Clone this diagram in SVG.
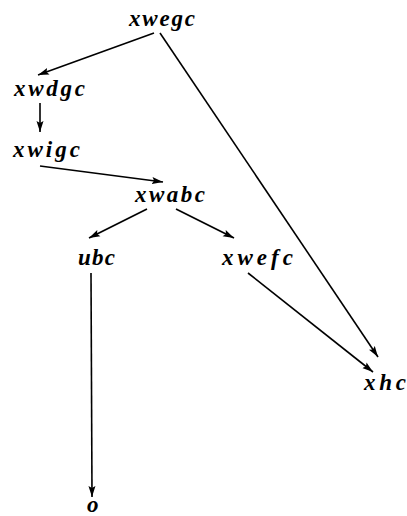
<svg xmlns="http://www.w3.org/2000/svg" width="407" height="516" viewBox="0 0 407 516">
<style>
.lbl{font-family:"Liberation Serif","DejaVu Serif",serif;font-weight:bold;font-style:italic;font-size:23px;fill:#000}
.edge{stroke:#000;stroke-width:1.6;fill:none;marker-end:url(#ah)}
</style>
<defs>
<marker id="ah" markerUnits="userSpaceOnUse" markerWidth="12" markerHeight="8" refX="11" refY="4" orient="auto">
<path d="M0,0.5 L11,4 L0,7.5 L2,4 z" fill="#000"/>
</marker>
</defs>
<rect width="407" height="516" fill="#fff"/>
<g id="connectors">
<line class="edge" x1="154" y1="33" x2="38" y2="75"/>
<line class="edge" x1="160" y1="33" x2="378" y2="357"/>
<line class="edge" x1="40" y1="103" x2="40" y2="132"/>
<line class="edge" x1="40" y1="166" x2="163" y2="182"/>
<line class="edge" x1="147" y1="209" x2="89" y2="238"/>
<line class="edge" x1="176" y1="209" x2="234" y2="238"/>
<line class="edge" x1="91" y1="273" x2="92" y2="497"/>
<line class="edge" x1="248" y1="273" x2="373" y2="372"/>
</g>
<g id="n-xwegc"><text class="lbl" x="129" y="26" textLength="66" lengthAdjust="spacing">xwegc</text></g>
<g id="n-xwdgc"><text class="lbl" x="14" y="96" textLength="71" lengthAdjust="spacing">xwdgc</text></g>
<g id="n-xwigc"><text class="lbl" x="13" y="157" textLength="67" lengthAdjust="spacing">xwigc</text></g>
<g id="n-xwabc"><text class="lbl" x="135" y="202" textLength="70" lengthAdjust="spacing">xwabc</text></g>
<g id="n-ubc"><text class="lbl" x="78" y="265" textLength="37" lengthAdjust="spacing">ubc</text></g>
<g id="n-xwefc"><text class="lbl" x="222" y="265" textLength="71" lengthAdjust="spacing">xwefc</text></g>
<g id="n-xhc"><text class="lbl" x="364" y="390" textLength="42" lengthAdjust="spacing">xhc</text></g>
<g id="n-o"><text class="lbl" x="87" y="512">o</text></g>
</svg>
